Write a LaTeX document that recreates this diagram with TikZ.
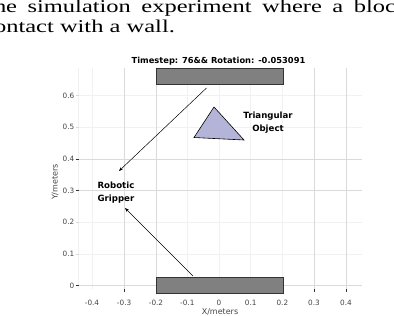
\documentclass[tikz,border=0pt]{standalone}
\usepackage{fontspec}
\setmainfont{Liberation Serif}
\newfontfamily\dvs{DejaVu Sans}
\usetikzlibrary{arrows.meta}
\definecolor{grid}{HTML}{DADADA}
\definecolor{gridf}{HTML}{F1F1F1}
\definecolor{wallfill}{HTML}{808080}
\definecolor{walledge}{HTML}{333333}
\definecolor{trifill}{HTML}{B4B4D8}
\definecolor{ticktext}{HTML}{444444}
\tikzset{
  captxt/.style={anchor=base west, inner sep=0pt, font=\fontsize{18}{20}\selectfont},
  ticklab/.style={inner sep=0pt, text=ticktext, font=\dvs\fontsize{7.3}{8}\selectfont},
  axlab/.style={inner sep=0pt, text=ticktext, font=\dvs\fontsize{8}{9}\selectfont},
  boldlab/.style={inner sep=0pt, align=center, font=\dvs\bfseries\fontsize{8.6}{13}\selectfont},
  wall/.style={fill=wallfill, draw=walledge, line width=0.8pt},
  gline/.style={draw=grid, line width=0.6pt},
  fline/.style={draw=gridf, line width=0.6pt},
  pointer/.style={draw=black, line width=0.5pt, -{Stealth[length=4pt,width=3pt]}},
}
\begin{document}
\begin{tikzpicture}[x=1pt,y=-1pt]
\useasboundingbox (0,0) rectangle (394,316);
\clip (0,0) rectangle (394,316);
% caption text
\node[captxt] (cap1) at (-13,12) {\scalebox{1.36}[1]{\makebox[309.5pt][s]{the simulation experiment where a block}}};
\node[captxt] (cap2) at (-17,32) {\scalebox{1.36}[1]{contact with a wall.}};
% title
\node[inner sep=0pt, font=\dvs\bfseries\fontsize{8.3}{9}\selectfont] (title) at (218.5,61) {Timestep: 76\&\& Rotation: -0.053091};
% faint grid
\foreach \xp in {92,187.3,219,250.7,282.4} \draw[fline] (\xp,68) -- (\xp,289);
\foreach \yp in {95.5,127.2,222.3,254} \draw[fline] (79,\yp) -- (362,\yp);
% visible grid
\foreach \xp in {124.1,156,314,346} \draw[gline] (\xp,68) -- (\xp,289);
\foreach \yp in {158.9,190.6,285.7} \draw[gline] (79,\yp) -- (362,\yp);
\draw[fline] (78,68) -- (78,289);
% ticks
\foreach \yp in {158.9,190.6,285.7} \draw[walledge, line width=0.6pt] (75.5,\yp) -- (78.5,\yp);
\foreach \yp in {95.5,127.2,222.3,254} \draw[grid, line width=0.6pt] (75.5,\yp) -- (78.5,\yp);
\foreach \xp in {124.1,314,346} \draw[walledge, line width=0.6pt] (\xp,289) -- (\xp,292);
% y tick labels
\foreach \yp/\lab in {95.5/0.6,127.2/0.5,158.9/0.4,190.6/0.3,222.3/0.2,254/0.1,285.7/0}
  \node[ticklab, anchor=east] at (74.5,\yp) {\lab};
% x tick labels
\foreach \xp/\lab in {92/-0.4,124.1/-0.3,156/-0.2,187.3/-0.1,219/0,250.7/0.1,282.4/0.2,314/0.3,346/0.4}
  \node[ticklab] at (\xp,303) {\lab};
\node[axlab] (xlab) at (220,312) {X/meters};
\node[axlab, rotate=90] (ylab) at (55,182) {Y/meters};
% walls
\draw[wall] (156,68) rectangle (283.5,84);
\draw[wall] (156,277) rectangle (283.5,293);
% triangle
\draw[fill=trifill, draw=black, line width=0.6pt] (214,107) -- (194,137.5) -- (244,140) -- cycle;
% labels
\node[boldlab] (tri) at (268,122.5) {Triangular\\Object};
\node[boldlab] (grip) at (116,192.5) {Robotic\\Gripper};
% pointers
\coordinate (s1) at (206.5,88);
\coordinate (e1) at (119,171);
\coordinate (s2) at (193,276);
\coordinate (e2) at (125,208);
\draw[pointer] (s1) -- (e1);
\draw[pointer] (s2) -- (e2);
\end{tikzpicture}
\end{document}
